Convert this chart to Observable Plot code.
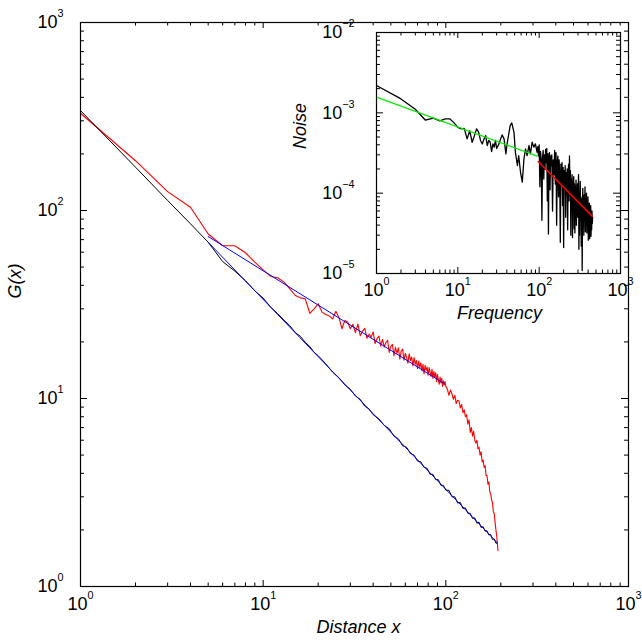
<!DOCTYPE html>
<html><head><meta charset="utf-8">
<script src="https://cdn.jsdelivr.net/npm/d3@7"></script>
<script src="https://cdn.jsdelivr.net/npm/@observablehq/plot@0.6"></script>
<style>
body{margin:0;background:#fff;}
#wrap{position:relative;width:642px;height:642px;}
#wrap svg{position:absolute;left:0;top:0;}
</style></head><body><div id="wrap"></div>
<script>
// ---------- data: main panel G(x) vs Distance x ----------
const gBlackSeries = [[1,340],[2,170],[3,113],[4,85],[5,67.8],[6,53.5],[7,47.6],[8,42.3],[9,37.4],[10,34.2],[11,30.6],[12,28.3],[13,26.1],[14,24.4],[15,22.4],[16,21.4],[17,19.9],[18,18.9],[19,17.6],[20,16.9],[22,15.3],[24,13.8],[26,12.9],[28,11.8],[30,11.2],[32,10.3],[34,9.9],[36,9.1],[38,8.8],[40,8.2],[43,7.8],[46,7.2],[49,6.9],[52,6.3],[55,6.1],[58,5.6],[61,5.5],[64,5.1],[67,5.0],[70,4.65],[73,4.6],[76,4.3],[79,4.25],[82,3.95],[85,3.95],[88,3.7],[91,3.7],[94,3.45],[97,3.45],[100,3.25],[104,3.25],[108,3.0],[112,3.0],[116,2.78],[120,2.8],[124,2.6],[128,2.62],[132,2.45],[136,2.45],[140,2.3],[144,2.32],[148,2.17],[152,2.2],[156,2.06],[160,2.08],[164,1.97],[168,1.98],[172,1.88],[176,1.89],[180,1.78],[184,1.79],[188,1.7],[191,1.7]];

const gRedSeries = [[1,329],[2,184],[3,126],[4,104],[5,75],[6,65],[7,64.9],[8,59.6],[9,53.1],[10,48.3],[11,44.6],[12,43.9],[13,41.6],[14,38.3],[15,35.3],[16,34.3],[17,33.9],[18,28.4],[19,30],[20,31.9],[21,28.8],[22,28],[23,27.5],[24,26.5],[25,29.1],[26,27],[27,23.5],[28,26],[29,25.5],
[30,23.5],[31,24.8],[32,22.4],[33,24.9],[34,21.6],[35,22.8],[36,23.6],[37,20.9],[38,22.0],[39,21.2],[40,22.6],[41,19.6],[42,20.8],[43,21.5],[44,19.0],[45,20.6],[46,18.8],[47,19.9],[48,20.4],[49,17.6],[50,18.9],[51,19.4],[52,16.9],[53,18.7],[54,17.4],[55,18.6],[56,16.2],[57,17.9],[58,18.3],[59,16.0],[60,17.4],[61,16.5],[62,15.4],[63,17.3],[64,15.9],[65,16.6],[66,14.9],[67,16.5],[68,15.2],[69,15.9],[70,14.4],[71,15.8],[72,14.6],[73,15.5],[74,14.0],[75,15.2],[76,13.5],[77,15.0],[78,14.1],[79,14.7],[80,13.3],[81,14.6],[82,13.8],[83,13.1],[84,14.3],[85,12.8],[86,13.9],[87,13.0],[88,13.7],[89,12.3],[90,13.4],[91,12.6],[92,11.9],[93,13.0],[94,12.1],[95,12.8],[96,11.6],[97,12.4],[98,11.8],[99,12.3],
[100,11.6],[102,11.2],[104,10.4],[106,11.1],[108,10.6],[110,9.9],[112,10.4],[114,9.4],[116,9.8],[118,9.7],[120,8.9],[122,9.3],[124,8.4],[126,8.7],[128,8.0],[130,8.2],[132,7.3],[134,7.7],[136,6.6],[138,7.0],[140,6.3],[142,6.7],[144,6.0],[146,5.8],[148,6.0],[150,5.4],[152,5.5],[154,5.0],[156,5.2],[158,4.6],[160,4.7],[162,4.3],[164,4.4],[166,3.9],[168,3.9],[170,3.5],[172,3.6],[174,3.2],[176,3.1],[178,2.9],[180,2.8],[182,2.5],[184,2.45],[186,2.2],[188,2.0],[190,1.85],[192,1.65],[193,1.55]];

const fitUpper = [[5,72.7],[98,12.0]];
const fitLower = [[5,67.8],[191,1.71]];

// ---------- data: inset Noise vs Frequency ----------
const noiseSeries = [[1,2.19e-3],[2,1.49e-3],[3,1.11e-3],[4,8.1e-4],[5,8.6e-4],[6,7.95e-4],[7,8.4e-4],[8,8.4e-4],[9,7.5e-4],[10,6.6e-4],[11,6.3e-4],[12,6.4e-4],[13,4.74e-4],[14,6.0e-4],[15,4.3e-4],[16,5.2e-4],[17,6.3e-4],[18,5.75e-4],[19,4.53e-4],[20,4.1e-4],[21,4.74e-4],[22,5.2e-4],[23,3.92e-4],[24,4.53e-4],[25,4.3e-4],[26,3.3e-4],[27,4.1e-4],[28,3.74e-4],[29,4.53e-4],[30,3.6e-4],[32,4.11e-4],[35,5.32e-4],[37,4.74e-4],[39,3.09e-4],[40,3.92e-4],[44,6.95e-4],[46,7.5e-4],[49,5.75e-4],[51,3.24e-4],[54,2.21e-4],[56,2.94e-4],[59,1.82e-4],[62,1.37e-4],[65,2.67e-4],[68,3.56e-4],[71,2.94e-4],[75,3.92e-4],[78,3.09e-4],[82,4.31e-4],[86,3.74e-4],[90,4.11e-4],[94,3.24e-4],
[96,3.8e-4],[98,2.9e-4],[100,4.0e-4],[102,1.2e-4],[104,3.3e-4],[106,2.6e-4],[108,4.6e-5],[110,2.8e-4],[112,3.4e-4],[114,1.5e-4],[116,3.0e-4],[118,2.0e-4],[120,3.5e-4],[122,2.4e-4],[124,3.6e-4],[126,8.0e-5],[128,3.1e-4],[130,3.1e-5],[132,2.7e-4],[134,3.2e-4],[136,1.1e-4],[138,2.9e-4],[140,2.2e-4],[143,3.0e-4],[146,6.0e-5],[149,2.6e-4],[152,1.7e-4],[155,3.4e-4],[158,1.3e-4],[161,3.2e-4],[164,4.0e-5],[167,2.5e-4],[170,2.9e-4],[173,9.0e-5],[176,2.6e-4],[179,1.6e-4],[182,2.45e-5],[185,2.3e-4],[188,1.3e-4],[191,2.4e-4],[194,7.0e-5],[197,2.1e-4],[200,2.1e-5],[203,1.9e-4],[206,1.2e-4],[209,2.2e-4],[212,5.0e-5],[215,1.8e-4],[218,1.0e-4],[221,2.0e-4],[224,3.5e-5],[227,1.6e-4],[230,2.3e-4],[233,8.0e-5],[236,2.9e-4],[239,1.1e-4],[242,1.9e-4],[245,3.0e-5],[248,1.5e-4],[251,9.5e-5],[254,1.7e-4],[257,2.8e-5],[260,1.4e-4],[263,1.1e-4],[266,1.6e-4],[269,3.6e-5],[272,1.3e-4],[275,3.2e-5],[278,1.2e-4],[281,8.0e-5],[284,1.45e-4],[287,4.0e-5],[290,1.1e-4],[293,7.0e-5],[296,1.3e-4],[299,5.0e-5],[302,1.1e-4],[305,1.7e-4],[308,2.0e-5],[311,1.0e-4],[314,3.0e-5],[317,9.5e-5],[320,1.4e-4],[323,5.5e-5],[326,9.0e-5],[329,2.2e-5],[332,8.5e-5],[335,6.0e-5],[338,1.09e-5],[341,8.0e-5],[344,1.15e-4],[347,4.5e-5],[350,8.0e-5],[354,3.0e-5],[358,9.5e-5],[362,5.5e-5],[366,1.2e-4],[370,3.3e-5],[374,8.5e-5],[378,4.0e-5],[382,1.0e-4],[386,3.2e-5],[390,7.5e-5],[394,4.5e-5],[398,9.0e-5],[402,2.6e-5],[406,6.5e-5],[410,3.4e-5],[414,7.5e-5],[418,2.7e-5],[422,6.0e-5],[426,3.3e-5],[430,7.0e-5],[434,2.9e-5],[438,5.5e-5],[442,3.5e-5],[446,6.0e-5],[450,4.2e-5],[454,5.0e-5]];

const fitGreen = [[1,1.57e-3],[94.5,2.89e-4]];
const fitRedInset = [[97.2,2.48e-4],[448,5.18e-5]];

// ---------- ticks & labels ----------
const mainXMajor = [1, 10, 100, 1000];
const mainYMajor = [1, 10, 100, 1000];
const insetXMajor = [1, 10, 100, 1000];
const insetYMajor = [1e-5, 1e-4, 1e-3, 1e-2];
const mainXLabel = "Distance x";
const mainYLabel = "G(x)";
const insetXLabel = "Frequency";
const insetYLabel = "Noise";

const minorOf = majors => majors.slice(0, -1).flatMap(d => [2,3,4,5,6,7,8,9].map(m => m * d));
const fmt = d => "10^" + Math.round(Math.log10(d));
const X = d => d[0], Y = d => d[1], I = d => d;
const FONT = "'Liberation Sans', Arial, Helvetica, sans-serif";

// inward-pointing ticks on all four sides of a frame of size w x h
function frameTicks(xMaj, yMaj, w, h) {
  const xMin = minorOf(xMaj), yMin = minorOf(yMaj);
  const c = {stroke: "black", strokeWidth: 1};
  const MX = 6, mx = 3.5, MY = 7, my = 4;
  return [
    Plot.tickX(xMaj, {x: I, insetTop: h - MX, ...c}),
    Plot.tickX(xMin, {x: I, insetTop: h - mx, ...c}),
    Plot.tickX(xMaj, {x: I, insetBottom: h - MX, ...c}),
    Plot.tickX(xMin, {x: I, insetBottom: h - mx, ...c}),
    Plot.tickY(yMaj, {y: I, insetRight: w - MY, ...c}),
    Plot.tickY(yMin, {y: I, insetRight: w - my, ...c}),
    Plot.tickY(yMaj, {y: I, insetLeft: w - MY, ...c}),
    Plot.tickY(yMin, {y: I, insetLeft: w - my, ...c})
  ];
}

function superscripts(svg) {
  svg.querySelectorAll("text").forEach(t => {
    const m = /^10\^(-?\d+)$/.exec(t.textContent);
    if (!m) return;
    t.textContent = "10";
    const s = document.createElementNS("http://www.w3.org/2000/svg", "tspan");
    s.setAttribute("font-size", "0.6em");
    s.setAttribute("dy", "-1em");
    s.textContent = m[1].replace("-", "\u2212");
    t.appendChild(s);
  });
}

const MAIN = {w: 642, h: 642, left: 80, right: 14, top: 22, bottom: 56};
// inset svg only covers its own region (placed at 286,14 on the page)
const INS = {w: 350, h: 320, left: 90, right: 16, top: 18, bottom: 61, pageX: 286, pageY: 14};

const main = Plot.plot({
  width: MAIN.w, height: MAIN.h,
  marginLeft: MAIN.left, marginRight: MAIN.right, marginTop: MAIN.top, marginBottom: MAIN.bottom,
  x: {type: "log", domain: [1, 1000]},
  y: {type: "log", domain: [1, 1000]},
  style: {fontFamily: FONT, fontSize: "18px", background: "white", color: "black"},
  marks: [
    Plot.line(gRedSeries, {x: X, y: Y, stroke: "#ff0000", strokeWidth: 1.1}),
    Plot.line(gBlackSeries, {x: X, y: Y, stroke: "#000000", strokeWidth: 1}),
    Plot.line(fitUpper, {x: X, y: Y, stroke: "#0000ff", strokeWidth: 1}),
    Plot.line(fitLower, {x: X, y: Y, stroke: "#0000ff", strokeWidth: 1}),
    ...frameTicks(mainXMajor, mainYMajor, MAIN.w - MAIN.left - MAIN.right, MAIN.h - MAIN.top - MAIN.bottom),
    Plot.axisX(mainXMajor, {anchor: "bottom", tickSize: 0, tickPadding: 11, tickFormat: fmt, label: null, fontSize: 18}),
    Plot.axisY(mainYMajor, {anchor: "left", tickSize: 0, tickPadding: 17, tickFormat: fmt, label: null, fontSize: 18}),
    Plot.frame({stroke: "black", strokeWidth: 1.2}),
    Plot.text([mainXLabel], {frameAnchor: "bottom", dx: 4, dy: 46, text: I, fontStyle: "italic", fontSize: 18}),
    Plot.text([mainYLabel], {frameAnchor: "left", dx: -65, dy: -6, rotate: -90, text: I, fontStyle: "italic", fontSize: 18})
  ]
});
superscripts(main);

const inset = Plot.plot({
  width: INS.w, height: INS.h,
  marginLeft: INS.left, marginRight: INS.right, marginTop: INS.top, marginBottom: INS.bottom,
  x: {type: "log", domain: [1, 1000]},
  y: {type: "log", domain: [1e-5, 1e-2]},
  style: {fontFamily: FONT, fontSize: "18px", background: "transparent", color: "black"},
  marks: [
    Plot.line(noiseSeries, {x: X, y: Y, stroke: "#000000", strokeWidth: 1.3}),
    Plot.line(fitGreen, {x: X, y: Y, stroke: "#00ee00", strokeWidth: 1.2}),
    Plot.line(fitRedInset, {x: X, y: Y, stroke: "#ff0000", strokeWidth: 1.5}),
    ...frameTicks(insetXMajor, insetYMajor, INS.w - INS.left - INS.right, INS.h - INS.top - INS.bottom),
    Plot.axisX(insetXMajor, {anchor: "bottom", tickSize: 0, tickPadding: 10, tickFormat: fmt, label: null, fontSize: 18}),
    Plot.axisY(insetYMajor, {anchor: "left", tickSize: 0, tickPadding: 22, tickFormat: fmt, label: null, fontSize: 18}),
    Plot.frame({stroke: "black", strokeWidth: 1.2}),
    Plot.text([insetXLabel], {frameAnchor: "bottom", dx: 1, dy: 45, text: I, fontStyle: "italic", fontSize: 18}),
    Plot.text([insetYLabel], {frameAnchor: "left", dx: -76, dy: -4, rotate: -90, text: I, fontStyle: "italic", fontSize: 18})
  ]
});
superscripts(inset);
inset.style.left = INS.pageX + "px";
inset.style.top = INS.pageY + "px";
inset.style.background = "transparent";

const wrap = document.getElementById("wrap");
wrap.appendChild(main);
wrap.appendChild(inset);
</script></body></html>
